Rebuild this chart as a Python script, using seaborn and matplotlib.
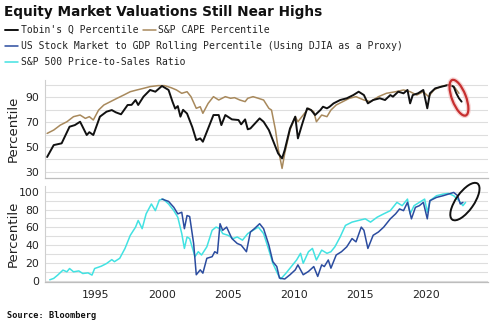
import matplotlib
matplotlib.use("Agg")
import matplotlib.pyplot as plt
from matplotlib.patches import Ellipse
from matplotlib.ticker import MultipleLocator, FixedLocator
from matplotlib.transforms import ScaledTranslation
import seaborn as sns

# ---- Top panel: valuation percentiles ----
tobin_years = [1991.3, 1991.8, 1992.4, 1993.0, 1993.4, 1993.8, 1994.3, 1994.5, 1994.8, 1995.3,
               1995.8, 1996.2, 1996.5, 1996.9, 1997.4, 1997.7, 1998.0, 1998.2, 1998.6, 1999.1,
               1999.5, 2000.0, 2000.5, 2000.8, 2001.0, 2001.2, 2001.4, 2001.6, 2001.9, 2002.3,
               2002.6, 2002.9, 2003.1, 2003.5, 2003.9, 2004.3, 2004.5, 2004.8, 2005.3, 2005.8,
               2006.0, 2006.3, 2006.5, 2006.7, 2007.4, 2007.7, 2008.1, 2008.4, 2008.8, 2009.1,
               2009.3, 2009.7, 2010.1, 2010.3, 2010.6, 2011.0, 2011.3, 2011.6, 2012.0, 2012.2,
               2012.5, 2012.7, 2013.0, 2013.5, 2014.0, 2014.5, 2014.9, 2015.3, 2015.6, 2016.0,
               2016.5, 2016.9, 2017.3, 2017.5, 2017.9, 2018.3, 2018.6, 2018.8, 2019.0, 2019.4,
               2019.8, 2020.1, 2020.3, 2020.7, 2021.2, 2021.7, 2022.1, 2022.3, 2022.5, 2022.7]
tobin_pct = [42, 51.6, 53, 66.4, 67.7, 70.4, 59.7, 62, 59.7, 74.5,
             78.5, 79.8, 78, 76.4, 83.9, 84, 87.9, 83.9, 90.6, 96,
             94.6, 99.2, 96, 86.5, 81, 83, 74.5, 80, 77, 66,
             55.6, 57, 54.3, 65, 75.8, 75.8, 67.7, 75.8, 72.3, 71.8,
             68.3, 72.3, 64.3, 65, 73.1, 70.4, 63.7, 55.6, 44.9, 40.9,
             47.6, 65, 74.5, 57, 67.7, 81.2, 79.8, 75.8, 79.8, 82.5,
             81.2, 82.5, 85.2, 87.9, 89.3, 91.9, 94.6, 91.9, 85.2, 87.9,
             89.3, 87.9, 91.9, 90.6, 94.6, 93.3, 96, 85.2, 91.9, 93.3,
             96, 81.2, 93.3, 97.3, 98.7, 100, 98.7, 93.3, 89.3, 86.6]

cape_years = [1991.3, 1991.8, 1992.3, 1992.8, 1993.3, 1993.8, 1994.2, 1994.5, 1994.8, 1995.2,
              1995.6, 1996.1, 1996.6, 1997.1, 1997.6, 1998.1, 1998.6, 1999.1, 1999.7, 2000.2,
              2000.7, 2001.1, 2001.5, 2001.9, 2002.2, 2002.6, 2002.9, 2003.1, 2003.5, 2003.9,
              2004.3, 2004.8, 2005.2, 2005.5, 2005.9, 2006.3, 2006.5, 2006.9, 2007.3, 2007.7,
              2008.1, 2008.3, 2008.6, 2008.8, 2009.1, 2009.3, 2009.7, 2010.1, 2010.3, 2010.7,
              2011.1, 2011.5, 2011.7, 2012.1, 2012.5, 2012.8, 2013.2, 2013.7, 2014.2, 2014.7,
              2015.3, 2015.8, 2016.4, 2017.0, 2017.7, 2018.3, 2018.8, 2019.3, 2019.8, 2020.2,
              2020.6, 2021.1, 2021.6, 2021.9, 2022.2, 2022.5]
cape_pct = [61, 63.7, 67.7, 70.4, 74.5, 75.8, 73.1, 74.5, 71.8, 79.8,
            83.9, 86.6, 89.3, 91.9, 94.6, 96, 97.3, 98.7, 99.5, 99.5,
            97.8, 96, 93.3, 94.6, 90.6, 81.2, 82.5, 77.2, 85.2, 90.6,
            87.9, 90.6, 89.3, 89.8, 87.9, 86.6, 89.3, 90.6, 89.3, 87.9,
            81.2, 79.8, 63.7, 49, 32.8, 44.9, 63.7, 74.5, 70.4, 75.8,
            81.2, 78.5, 70.4, 75.8, 74.5, 79.8, 83.9, 86.6, 89.3, 90.6,
            87.9, 86.6, 90.6, 93.3, 94.6, 96, 94.6, 91.9, 94.6, 90.6,
            96, 98.7, 100, 100, 97.8, 93.3]

# ---- Bottom panel ----
gdp_years = [2000.0, 2000.5, 2000.9, 2001.2, 2001.5, 2001.7, 2001.9, 2002.1, 2002.4, 2002.6,
             2002.9, 2003.1, 2003.4, 2003.8, 2004.0, 2004.2, 2004.4, 2004.6, 2004.9, 2005.3,
             2005.7, 2006.0, 2006.4, 2006.7, 2007.0, 2007.4, 2007.7, 2008.1, 2008.4, 2008.7,
             2008.9, 2009.3, 2009.7, 2010.1, 2010.3, 2010.7, 2011.1, 2011.5, 2011.8, 2012.1,
             2012.3, 2012.6, 2012.8, 2013.2, 2013.6, 2014.0, 2014.4, 2014.7, 2015.1, 2015.3,
             2015.6, 2016.0, 2016.4, 2016.8, 2017.3, 2017.7, 2018.0, 2018.3, 2018.6, 2018.9,
             2019.2, 2019.5, 2019.8, 2020.1, 2020.3, 2020.8, 2021.3, 2021.7, 2022.1, 2022.4,
             2022.6, 2022.8]
gdp_pct = [91.8, 89.2, 82.5, 75.2, 77, 58.5, 73.3, 72.2, 41.9, 6.7,
           12.2, 8.5, 25.2, 27, 32.6, 30.8, 64.1, 56.7, 60.3, 47.4,
           41.9, 40, 32.6, 54.8, 58.5, 64.1, 58.5, 40, 21.4, 15.9,
           3, 1.9, 6.7, 12.2, 17.8, 6.7, 10.4, 15.9, 4.8, 17.8,
           15.9, 23.3, 14.1, 28.9, 32.6, 38.1, 47.4, 43.7, 60.3, 56.7,
           36.3, 51.1, 54.8, 60.3, 69.6, 75.2, 80.7, 78.8, 88.1, 69.6,
           82.5, 84.4, 88.1, 69.6, 90, 93.7, 95.6, 97.4, 99.3, 95.6,
           86.3, 88.1]

ps_years = [1991.5, 1991.8, 1992.1, 1992.5, 1992.8, 1993.0, 1993.3, 1993.7, 1994.0, 1994.4,
            1994.7, 1994.9, 1995.4, 1995.8, 1996.2, 1996.4, 1996.8, 1997.2, 1997.6, 1998.0,
            1998.2, 1998.5, 1998.8, 1999.2, 1999.5, 1999.8, 2000.1, 2000.5, 2000.9, 2001.2,
            2001.5, 2001.7, 2001.9, 2002.1, 2002.5, 2002.75, 2003.0, 2003.4, 2003.8, 2004.1,
            2004.4, 2004.6, 2005.0, 2005.4, 2005.7, 2006.1, 2006.5, 2006.9, 2007.3, 2007.7,
            2008.1, 2008.4, 2008.8, 2009.0, 2009.4, 2009.8, 2010.2, 2010.5, 2010.7, 2011.1,
            2011.4, 2011.7, 2012.1, 2012.5, 2012.8, 2013.1, 2013.5, 2013.9, 2014.4, 2014.9,
            2015.4, 2015.8, 2016.3, 2016.8, 2017.3, 2017.8, 2018.2, 2018.6, 2018.8, 2019.1,
            2019.5, 2019.9, 2020.1, 2020.3, 2020.8, 2021.3, 2021.7, 2022.1, 2022.5, 2022.8,
            2023.0]
ps_pct = [1, 2.6, 6.3, 11.9, 10, 13.7, 10, 11, 8.1, 8.8,
          6.3, 13.7, 16.3, 19.3, 23.7, 21.4, 25.2, 36.3, 51, 60.3,
          67.8, 58.5, 75.2, 86.3, 78.8, 90.7, 91.8, 86.3, 78.8, 71.4,
          53, 36.3, 49.2, 47.4, 27, 32.6, 28.9, 38.1, 56.7, 60.3,
          58.5, 53, 51.1, 47.4, 49.2, 45.6, 53, 56.7, 60.3, 53,
          34.4, 19.6, 6.7, 1.9, 8.5, 15.9, 23.3, 30.8, 19.6, 32.6,
          36.3, 23.3, 34.4, 30.8, 32.6, 38.1, 49.2, 62.2, 65.9, 67.8,
          69.6, 65.9, 71.4, 75.2, 78.8, 88.1, 84.4, 91.8, 75.2, 84.4,
          88.1, 91.8, 77, 90, 95.6, 97.4, 98.2, 95.6, 90, 84.4,
          88.1]

year_ticks = [1995, 2000, 2005, 2010, 2015, 2020]
top_ticks = [30, 50, 70, 90]
bottom_ticks = [0, 20, 40, 60, 80, 100]

labels = {
    "tobin": "Tobin's Q Percentile",
    "cape": "S&P CAPE Percentile",
    "gdp": "US Stock Market to GDP Rolling Percentile (Using DJIA as a Proxy)",
    "ps": "S&P 500 Price-to-Sales Ratio",
}
colors = {"tobin": "#111111", "cape": "#a8895c", "gdp": "#2b4c9f", "ps": "#42e2e2"}

sns.set_theme(style="white")
plt.rcParams["font.family"] = ["DejaVu Sans"]

fig = plt.figure(figsize=(5, 3.28), dpi=100)
ax1 = fig.add_axes([0.09, 0.457, 0.886, 0.299])
ax2 = fig.add_axes([0.09, 0.1415, 0.886, 0.290])

sns.lineplot(x=cape_years, y=cape_pct, ax=ax1, color=colors["cape"], lw=1.1)
sns.lineplot(x=tobin_years, y=tobin_pct, ax=ax1, color=colors["tobin"], lw=1.4)
sns.lineplot(x=ps_years, y=ps_pct, ax=ax2, color=colors["ps"], lw=1.1)
sns.lineplot(x=gdp_years, y=gdp_pct, ax=ax2, color=colors["gdp"], lw=1.1)

for ax, lim, ticks in ((ax1, (25, 104), top_ticks), (ax2, (-1, 106), bottom_ticks)):
    ax.set_xlim(1991.14, 2024.7)
    ax.set_ylim(*lim)
    ax.yaxis.set_major_locator(FixedLocator(ticks))
    ax.yaxis.set_minor_locator(MultipleLocator(10))
    ax.grid(axis="y", which="both", color="#dedede", lw=0.8)
    ax.set_axisbelow(True)
    for s in ("top", "right"):
        ax.spines[s].set_visible(False)
    ax.spines["left"].set_color("#cfcfcf")
    ax.spines["bottom"].set_color("#bdbdbd")
    ax.spines["left"].set_linewidth(0.8)
    ax.spines["bottom"].set_linewidth(0.9)
    ax.tick_params(axis="y", length=0, pad=4, labelsize=7.8, labelcolor="#222222")
    ax.set_ylabel("Percentile", fontsize=9.6, color="#222222")
    ax.yaxis.set_label_coords(-0.057, 0.5)
    ax.set_xlabel("")

ax1.set_xticks(year_ticks)
ax1.tick_params(axis="x", length=0, labelbottom=False)
ax2.set_xticks(year_ticks)
ax2.tick_params(axis="x", length=3, width=0.6, color="#bdbdbd", pad=3,
                labelsize=7.8, labelcolor="#222222")

# Highlight rings around the latest readings
def ring(ax, center, w, h, angle, color, lw, alpha=1.0):
    tr = fig.dpi_scale_trans + ScaledTranslation(center[0], center[1], ax.transData)
    e = Ellipse((0, 0), w, h, angle=angle, transform=tr, fill=False,
                edgecolor=color, lw=lw, alpha=alpha, clip_on=False, zorder=5)
    fig.add_artist(e)

red_center = (sum(tobin_years[-3:]) / 3, sum(tobin_pct[-3:]) / 3)
ring(ax1, red_center, 0.14, 0.38, 21, "#f2b8b8", 3.5, 0.6)
ring(ax1, red_center, 0.14, 0.38, 21, "#c62f2f", 1.6)
ring(ax2, (2022.95, 89), 0.44, 0.18, 55, "#111111", 1.4)

# Title, legend rows and source
fig.text(0.008, 1 - 12 / 328, "Equity Market Valuations Still Near Highs",
         fontsize=9.8, fontweight="bold", va="center", color="#111111")

lines_top = ax1.get_lines()
lines_bot = ax2.get_lines()
leg_kw = dict(loc="center left", frameon=False, borderpad=0, borderaxespad=0,
              handlelength=1.35, handletextpad=0.25, columnspacing=0.5,
              prop={"family": "DejaVu Sans Mono", "size": 7})
leg1 = fig.legend([lines_top[1], lines_top[0]], [labels["tobin"], labels["cape"]],
                  ncol=2, bbox_to_anchor=(0.01, 1 - 30 / 328), **leg_kw)
leg2 = fig.legend([lines_bot[1]], [labels["gdp"]], bbox_to_anchor=(0.01, 1 - 46 / 328), **leg_kw)
leg3 = fig.legend([lines_bot[0]], [labels["ps"]], bbox_to_anchor=(0.01, 1 - 62 / 328), **leg_kw)
for lg in (leg1, leg2, leg3):
    for t in lg.get_texts():
        t.set_color("#222222")

fig.text(0.014, 1 - 315 / 328, "Source: Bloomberg", fontsize=6.2, fontweight="bold",
         family="DejaVu Sans Mono", va="center", color="#111111")

fig.savefig("out.png", dpi=100, facecolor="white")
